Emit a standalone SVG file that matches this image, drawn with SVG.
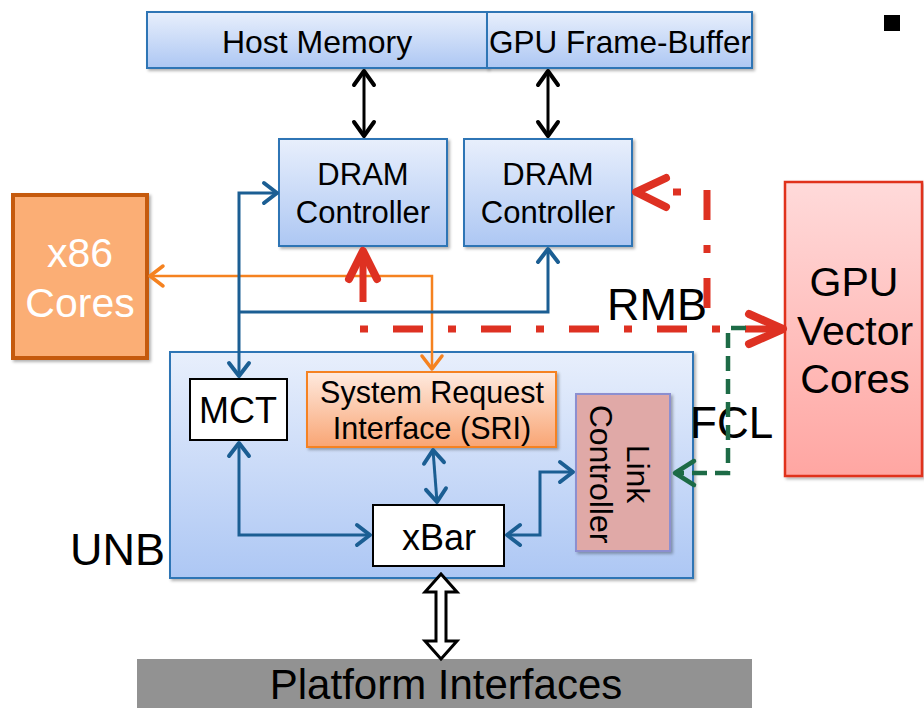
<svg xmlns="http://www.w3.org/2000/svg" width="924" height="708" viewBox="0 0 924 708">
<defs>
<linearGradient id="gBlue" x1="0" y1="0" x2="0" y2="1"><stop offset="0" stop-color="#E8EFFC"/><stop offset="1" stop-color="#ADC7F3"/></linearGradient>
<linearGradient id="gUnb" x1="0" y1="0" x2="0" y2="1"><stop offset="0" stop-color="#E8EFFC"/><stop offset="1" stop-color="#ADC7F4"/></linearGradient>
<linearGradient id="gSri" x1="0" y1="0" x2="0" y2="1"><stop offset="0" stop-color="#FEEADF"/><stop offset="1" stop-color="#F9A574"/></linearGradient>
<linearGradient id="gGpu" x1="0" y1="0" x2="0" y2="1"><stop offset="0" stop-color="#FFDADA"/><stop offset="1" stop-color="#FFA6A2"/></linearGradient>
<filter id="sh" x="-10%" y="-10%" width="130%" height="130%"><feDropShadow dx="2" dy="2" stdDeviation="1.8" flood-color="#000" flood-opacity="0.3"/></filter>
<marker id="mB" markerUnits="userSpaceOnUse" viewBox="-20 -14 24 28" refX="0" refY="0" markerWidth="24" markerHeight="28" orient="auto-start-reverse"><path d="M-13,-10 L0,0 L-13,10" fill="none" stroke="#1B5E93" stroke-width="4" stroke-linecap="round" stroke-linejoin="round"/></marker>
<marker id="mK" markerUnits="userSpaceOnUse" viewBox="-20 -14 24 28" refX="0" refY="0" markerWidth="24" markerHeight="28" orient="auto-start-reverse"><path d="M-14,-10 L0,0 L-14,10" fill="none" stroke="#000" stroke-width="4" stroke-linecap="round" stroke-linejoin="round"/></marker>
<marker id="mO" markerUnits="userSpaceOnUse" viewBox="-20 -14 24 28" refX="0" refY="0" markerWidth="24" markerHeight="28" orient="auto-start-reverse"><path d="M-13,-10 L0,0 L-13,10" fill="none" stroke="#F58220" stroke-width="3.5" stroke-linecap="round" stroke-linejoin="round"/></marker>
</defs>
<style>
text{font-family:"Liberation Sans",Arial,sans-serif;fill:#000}
.bb{fill:url(#gBlue);stroke:#2E74B5;stroke-width:2;filter:url(#sh)}
.wb{fill:#fff;stroke:#000;stroke-width:2}
.blue{fill:none;stroke:#1B5E93;stroke-width:3;marker-end:url(#mB)}
.blue2{marker-start:url(#mB)}
.red{fill:none;stroke:#DE3122;stroke-width:7;stroke-linecap:butt}
.redh{fill:none;stroke:#DE3122;stroke-width:8;stroke-linecap:round;stroke-linejoin:round}
.grn{fill:none;stroke:#1D6B46;stroke-width:4.5}
</style>

<g id="host-memory"><rect class="bb" x="147" y="12" width="340" height="56"/><text x="317" y="53" font-size="32" text-anchor="middle">Host Memory</text></g>
<g id="gpu-frame-buffer"><rect class="bb" x="487" y="12" width="265" height="56"/><text x="620" y="53" font-size="31.5" text-anchor="middle">GPU Frame-Buffer</text></g>
<g id="dram1"><rect class="bb" x="279" y="139" width="168" height="107"/><text x="363" y="185" font-size="31" text-anchor="middle">DRAM</text><text x="363" y="223" font-size="31" text-anchor="middle">Controller</text></g>
<g id="dram2"><rect class="bb" x="464" y="139" width="168" height="107"/><text x="548" y="185" font-size="31" text-anchor="middle">DRAM</text><text x="548" y="223" font-size="31" text-anchor="middle">Controller</text></g>
<g id="x86"><rect x="13" y="195" width="134" height="163" fill="#FBAE75" stroke="#C55A11" stroke-width="4" filter="url(#sh)"/><text x="80" y="267" font-size="41" text-anchor="middle" style="fill:#fff">x86</text><text x="80" y="317" font-size="41" text-anchor="middle" style="fill:#fff">Cores</text></g>
<g id="gpu-vector-cores"><rect x="785" y="182" width="137" height="294" fill="url(#gGpu)" stroke="#E0301E" stroke-width="2.5" filter="url(#sh)"/><text x="854" y="296" font-size="41" text-anchor="middle">GPU</text><text x="855" y="345" font-size="41" text-anchor="middle">Vector</text><text x="855" y="393" font-size="41" text-anchor="middle">Cores</text></g>
<g id="unb"><rect x="170" y="352" width="523" height="226" fill="url(#gUnb)" stroke="#2E74B5" stroke-width="2" filter="url(#sh)"/><text x="70" y="565" font-size="45">UNB</text></g>
<g id="mct"><rect class="wb" x="190" y="379" width="97" height="61"/><text x="238" y="423" font-size="36" text-anchor="middle">MCT</text></g>
<g id="sri"><rect x="307" y="372" width="249" height="75" fill="url(#gSri)" stroke="#F58220" stroke-width="2" filter="url(#sh)"/><text x="432" y="403" font-size="30.5" text-anchor="middle">System Request</text><text x="432" y="439" font-size="30.5" text-anchor="middle">Interface (SRI)</text></g>
<g id="link-controller"><rect x="576" y="394" width="94" height="157" fill="#E0A9A7" stroke="#8C8FD0" stroke-width="2" filter="url(#sh)"/><g transform="translate(623,474) rotate(90)"><text x="0" y="-4" font-size="32" text-anchor="middle">Link</text><text x="0" y="33" font-size="32" text-anchor="middle">Controller</text></g></g>
<g id="xbar"><rect class="wb" x="373" y="505" width="131" height="61"/><text x="439" y="550" font-size="36" text-anchor="middle">xBar</text></g>
<g id="platform"><rect x="137" y="659" width="615" height="49" fill="#929292"/><text x="446" y="699" font-size="42" text-anchor="middle">Platform Interfaces</text></g>
<g id="labels"><text x="607" y="320" font-size="45">RMB</text><text x="690" y="438" font-size="44">FCL</text><rect x="884" y="15" width="16" height="16" fill="#000"/></g>

<g id="connectors">
<path d="M364,71 V136" fill="none" stroke="#000" stroke-width="3" marker-start="url(#mK)" marker-end="url(#mK)"/>
<path d="M548,71 V136" fill="none" stroke="#000" stroke-width="3" marker-start="url(#mK)" marker-end="url(#mK)"/>
<path d="M432,369 V276 H150" fill="none" stroke="#F58220" stroke-width="2.5" marker-start="url(#mO)" marker-end="url(#mO)"/>
<path class="blue blue2" d="M277,193 H239 V376"/>
<path class="blue" d="M239,312 H548 V249"/>
<path class="blue blue2" d="M239,443 V535 H370"/>
<path class="blue blue2" d="M433,450 L437,502"/>
<path class="blue blue2" d="M507,535 H540 V472 H573"/>
<path class="red" d="M360,329 H781" stroke-dasharray="8 25 30 25"/>
<path class="redh" d="M749,314 L783,329 L749,344"/>
<path class="red" d="M707,190 V310" stroke-dasharray="30 25 8 25"/>
<path class="red" d="M673,192 H681"/>
<path class="redh" d="M666,178 L636,192 L666,207"/>
<path class="red" d="M363,302 V256"/>
<path class="redh" d="M349,279 L363,251 L377,279"/>
<path class="grn" d="M746,328 H728 V473 H678" stroke-dasharray="15 8"/>
<path d="M694,461 L675,473 L694,485" fill="none" stroke="#1D6B46" stroke-width="4.5" stroke-linecap="round" stroke-linejoin="round"/>
<polygon points="441,574 457,592 446,592 446,641 457,641 441,659 425,641 436,641 436,592 425,592" fill="#fff" stroke="#000" stroke-width="3" stroke-linejoin="miter"/>
</g>
</svg>
